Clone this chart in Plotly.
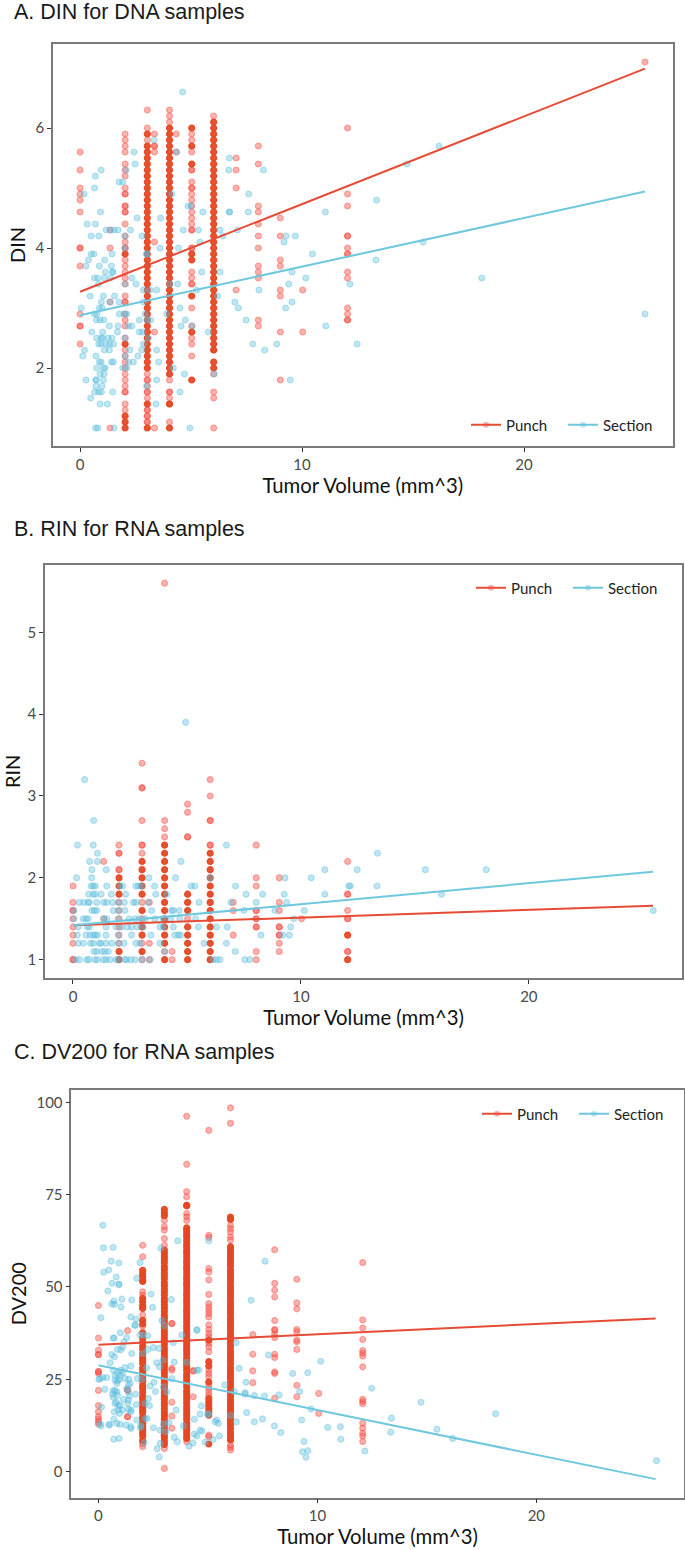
import plotly.graph_objects as go

W, H = 685, 1550

punch_name, section_name = "Punch", "Section"
panel_titles = ["A. DIN for DNA samples", "B. RIN for RNA samples", "C. DV200 for RNA samples"]
x_title = "Tumor Volume (mm^3)"
y_titles = ["DIN", "RIN", "DV200"]
x_ticks = [0, 10, 20]
din_ticks = [2, 4, 6]
rin_ticks = [1, 2, 3, 4, 5]
dv_ticks = [0, 25, 50, 75, 100]

# ---------- A. DIN ----------
din_line_x = [0, 25.45]
din_punch_fit = [3.27, 6.99]
din_section_fit = [2.88, 4.94]

din_p0 = [5.6, 5.3, 5.0, 4.9, 4.8, 4.6, 4.0, 4.0, 3.7, 2.9, 2.7, 2.7, 2.4]
din_p1 = [4.3, 4.0, 3.1, 1.0]
din_p2 = [5.9, 5.8, 5.7, 5.6, 5.4, 5.3, 5.2, 5.0, 4.9, 4.9, 4.7, 4.7, 4.6, 4.6, 4.4, 4.2, 4.1, 4.0, 4.0, 3.8, 3.7, 3.6, 3.5, 3.4,
          3.2, 3.1, 3.1, 2.9, 2.8, 2.7, 2.5, 2.3, 2.2, 2.1, 2.0, 1.9, 1.8, 1.7, 1.6, 1.6, 1.4, 1.3]
din_p2_dense = [3.9, 2.4, 1.2, 1.1, 1.0]
din_p3 = [6.3, 6.0, 5.8, 1.9, 1.8, 1.8, 1.7, 1.6, 1.6, 1.5, 1.3, 1.3, 1.2, 1.2, 1.1, 1.1]
din_p3_dense = [5.9, 5.7, 5.6, 5.5, 5.4, 5.3, 5.2, 5.1, 5.0, 4.9, 4.8, 4.7, 4.6, 4.5, 4.4, 4.3, 4.2, 4.1, 4.0, 3.9, 3.8, 3.7, 3.6, 3.5, 3.4, 3.3, 3.2, 3.1,
                3.0, 2.9, 2.8, 2.7, 2.6, 2.5, 2.4, 2.3, 2.2, 2.1, 2.0, 1.4, 1.0]
din_p4 = [6.3, 6.2, 6.1, 1.8, 1.6, 1.6, 1.5, 1.4, 1.1]
din_p4_dense = [6.0, 5.9, 5.8, 5.7, 5.6, 5.5, 5.4, 5.3, 5.2, 5.1, 5.0, 4.9, 4.8, 4.7, 4.6, 4.5, 4.4, 4.3, 4.2, 4.1, 4.0, 3.9, 3.8, 3.7, 3.6, 3.5, 3.4, 3.3, 3.2,
                3.1, 3.0, 2.9, 2.8, 2.7, 2.6, 2.5, 2.4, 2.3, 2.2, 2.1, 2.0, 1.9, 1.4, 1.0]
din_p5 = [5.9, 5.8, 5.6, 5.3, 5.3, 5.1, 5.0, 5.0, 4.9, 4.8, 4.7, 4.6, 4.5, 4.4, 4.3, 4.3, 4.0, 4.0, 3.6, 3.5, 3.4, 3.4, 3.0, 2.7, 2.5, 2.4, 2.2]
din_p5_dense = [6.0, 5.7, 5.4, 3.9, 3.8, 3.2, 2.6, 1.8]
din_p6 = [6.2, 2.3, 1.9, 1.6, 1.5, 1.0]
din_p6_dense = [6.1, 6.0, 5.9, 5.8, 5.7, 5.6, 5.5, 5.4, 5.3, 5.2, 5.1, 5.0, 4.9, 4.8, 4.7, 4.6, 4.5, 4.4, 4.3, 4.2, 4.1, 4.0, 3.9, 3.8, 3.7, 3.6, 3.5, 3.4, 3.3,
                3.2, 3.1, 3.0, 2.9, 2.8, 2.7, 2.6, 2.5, 2.4, 2.3, 2.1, 2.0]
din_p7 = [5.5, 5.3, 5.0, 3.3]
din_p8 = [5.7, 5.4, 4.7, 4.6, 4.4, 4.2, 4.0, 3.7, 3.6, 3.5, 2.8, 2.7]
din_p9 = [4.5, 4.2, 3.8, 3.7, 3.3, 3.2, 2.6, 1.8]
din_p10 = [3.3, 2.6]
din_p12 = [6.0, 4.9, 4.7, 4.2, 4.2, 4.0, 3.9, 3.9, 3.6, 3.5, 3.0, 2.9, 2.8, 2.8]
din_p1335 = [5.9, 5.7, 5.7, 5.6, 4.1, 2.6, 1.0]
din_p433 = [5.9, 5.6]
din_p25 = [7.1]

din_section_x = [4.62, 3.33, 4.35, 2.43, 2.48, 2.07, .95, .69, 1.76, 1.92, .65, .18, 4.13, .92, 4.86, 5.0, 5.53, 6.73, 6.7, 8.26, 7.6, 6.73, 6.73, 7.58, 11.05,
                 2.57, 3.63, .32, .69, 1.17, 1.37, 1.53, 1.71, 2.27, 4.65, 5.33, 6.3, 7.09, .5, .84, 2.03, 2.79, 5.4, 6.43, 9.19, 9.28, 9.7, 3.6, 4.43, 2.03,
                 .5, .62, 1.44, 3.0, 3.0, .38, 1.11, .26, .87, 1.41, 1.14, 1.47, 1.47, 5.48, 6.3, 9.55, .65, .8, 1.1, 1.37, 2.33, 10.17, .83, 2.52, 4.05, 4.4, 9.4, 2.03,
                 2.85, 3.15, 3.45, 5.25, 8.06, 10.47, .45, 1.05, 1.55, 6.2, .96, 1.35, 1.76, 2.85, 9.55, 6.97, .87, .99, .05, 4.5, 7.13, 9.26,
                 .65, .75, 1.77, 1.98, 2.1, 2.93, 3.9, .74, .9, 1.07, 2.67, 3.03, 3.18, 4.74, 7.48, 1.32, 1.71, 2.18, 2.33, 4.55, 5.05, 11.07,
                 .53, 1.02, 1.68, 2.67, 2.81, 5.78, .75, .95, 1.02, 1.26, 1.44, 2.03, 3.08, .84, .95, 1.17, 1.32, 1.5, 2.85, 7.78, 8.86,
                 .2, 1.1, 1.32, 2.24, 2.78, 3.45, 8.32, .12, .72, 2.03, 2.61, .87, .95, 1.41, 1.5, 2.18, 2.4, 3.54, .75, 1.05, 1.13, 1.92, 2.1, 4.2,
                 .9, 1.08, 4.7, 6.04, .27, .72, .72, 1.05, 3.45, 9.47, .72, .99, 3.0, .66, .84, .96, 1.47, 4.5, .48, .9, 1.23, 3.42, .7, .8, 1.53, 4.95,
                 16.17, 14.73, 13.36, 15.45, 13.33, 18.1, 12.16, 25.45, 12.48]
din_section_y = [6.6, 5.8, 5.6, 5.6, 5.4, 5.3, 5.3, 5.2, 5.1, 5.1, 5.0, 4.9, 4.9, 4.6, 4.7, 4.7, 4.6, 5.5, 5.3, 5.3, 4.9, 4.6, 4.6, 4.6, 4.6,
                 4.5, 4.5, 4.4, 4.4, 4.3, 4.3, 4.3, 4.3, 4.3, 4.3, 4.3, 4.3, 4.3, 4.2, 4.2, 4.2, 4.2, 4.1, 4.2, 4.1, 4.2, 4.2, 4.0, 4.0, 4.0,
                 3.9, 3.9, 3.9, 3.9, 3.9, 3.8, 3.8, 3.7, 3.7, 3.7, 3.6, 3.6, 3.6, 3.6, 3.6, 3.6, 3.5, 3.5, 3.5, 3.5, 3.5, 3.5, 3.4, 3.4, 3.4, 3.4, 3.4, 3.4,
                 3.3, 3.3, 3.3, 3.3, 3.3, 3.9, 3.2, 3.2, 3.2, 3.2, 3.1, 3.1, 3.1, 3.1, 3.1, 3.1, 3.0, 3.0, 3.0, 3.0, 3.0, 3.0,
                 2.9, 2.9, 2.9, 2.9, 2.9, 2.9, 2.9, 2.8, 2.8, 2.8, 2.8, 2.8, 2.8, 2.8, 2.8, 2.7, 2.7, 2.7, 2.7, 2.7, 2.7, 2.7,
                 2.6, 2.6, 2.6, 2.6, 2.6, 2.6, 2.5, 2.5, 2.5, 2.5, 2.5, 2.5, 2.5, 2.4, 2.4, 2.4, 2.4, 2.4, 2.4, 2.4, 2.4,
                 2.3, 2.3, 2.3, 2.3, 2.3, 2.3, 2.3, 2.2, 2.2, 2.2, 2.2, 2.1, 2.1, 2.1, 2.1, 2.1, 2.1, 2.1, 2.0, 2.0, 2.0, 2.0, 2.0, 2.0,
                 1.9, 1.9, 1.9, 1.9, 1.8, 1.8, 1.8, 1.8, 1.8, 1.8, 1.7, 1.7, 1.7, 1.6, 1.6, 1.6, 1.6, 1.6, 1.5, 1.4, 1.4, 1.4, 1.0, 1.0, 1.0, 1.0,
                 5.7, 5.4, 4.8, 4.1, 3.8, 3.5, 3.4, 2.9, 2.4]

# ---------- B. RIN ----------
rin_line_x = [0, 25.45]
rin_punch_fit = [1.42, 1.66]
rin_section_fit = [1.42, 2.075]

rin_p0 = [1.9, 1.7, 1.6, 1.6, 1.5, 1.4, 1.3, 1.2, 1.0, 1.0]
rin_p1 = [2.2, 1.5]
rin_p2 = [2.4, 2.3, 2.3, 2.1, 2.1, 1.7, 1.6, 1.5, 1.4, 1.3, 1.2]
rin_p2_dense = [2.0, 1.9, 1.8, 1.1, 1.0]
rin_p3 = [3.4, 3.1, 3.1, 2.7, 2.4, 2.4, 2.3, 1.7, 1.5, 1.2, 1.0]
rin_p3_dense = [2.2, 2.1, 2.0, 1.9, 1.8, 1.6, 1.4, 1.3, 1.1]
rin_p4 = [5.6, 2.7, 2.6, 2.5, 1.1]
rin_p4_dense = [2.4, 2.3, 2.2, 2.1, 2.0, 1.9, 1.8, 1.7, 1.6, 1.5, 1.4, 1.3, 1.2, 1.0]
rin_p5 = [2.9, 2.8, 2.5, 2.5, 1.5]
rin_p5_dense = [1.8, 1.7, 1.6, 1.4, 1.3, 1.2, 1.1, 1.0]
rin_p6 = [3.2, 3.0, 2.7, 2.7, 2.4, 2.4]
rin_p6_dense = [2.3, 2.2, 2.1, 1.9, 1.8, 1.7, 1.6, 1.5, 1.4, 1.3, 1.2, 1.1, 1.0, 2.0]
rin_p7 = [1.7, 1.6, 1.3]
rin_p8 = [2.4, 2.0, 1.9, 1.6, 1.6, 1.5, 1.5, 1.4, 1.4, 1.1, 1.0]
rin_p9 = [2.0, 1.7, 1.6, 1.4, 1.4, 1.3, 1.3, 1.2, 1.1]
rin_p10 = [1.5]
rin_p12 = [2.2, 1.8, 1.8, 1.6, 1.5, 1.5, 1.1, 1.1]
rin_p12_dense = [1.3, 1.0]
rin_p335 = [1.7, 1.2, 1.0]
rin_p433 = [1.1, 1.0]

rin_section_x = [4.94, .51, .91, .2, .89, 6.73, 1.07, .73, 1.07, 4.74, .83, 1.46, 11.05, .16, .82, 3.33, 4.5, 6.02, 9.3, 10.45,
                 .79, .89, .98, 1.48, 2.06, 2.18, 2.76, 2.87, 3.0, 3.58, 5.19, 5.34, 7.13, 12.1,
                 .69, .89, .98, 1.23, 1.68, 2.31, 3.63, 4.11, 7.59, 8.32, 9.27, 11.05,
                 .28, .48, .67, .72, 1.04, 1.35, 1.48, 1.74, 1.99, 2.25, 2.65, 2.76, 3.3, 5.53, 6.93, 8.04, 9.37,
                 .04, .83, .94, 1.04, 1.77, 1.99, 2.28, 3.45, 4.33, 4.4, 4.66, 7.5, 8.86, 10.15,
                 .04, .45, .57, .67, 1.36, 1.48, 1.99, 2.46, 2.72, 2.91, 3.16, 3.6, 3.96, 4.28, 4.69, 5.38, 9.69,
                 .23, .63, .72, 1.45, 1.89, 2.13, 2.38, 2.57, 2.82, 3.08, 3.82, 3.96, 4.4, 5.5, 6.3, 6.77, 9.55,
                 .19, .57, .75, .89, .98, 1.08, 1.45, 1.99, 2.57, 3.42, 4.47, 4.62, 4.72, 8.25, 9.2, 9.49,
                 .23, .45, .77, .89, 1.15, 1.23, 1.45, 1.7, 1.99, 2.24, 2.76, 2.94, 3.82, 5.75, 6.73,
                 .92, 1.04, 1.26, 1.4, 1.55, 4.02, 7.12,
                 .12, .28, .6, .69, .96, 1.07, 1.33, 1.45, 1.62, 1.89, 2.0, 2.28, 2.35, 2.53, 2.72, 3.03, 3.38, 6.15, 6.3, 6.45, 7.54, 7.76,
                 13.36, 12.47, 15.46, 18.13, 12.17, 13.34, 16.17, 25.46]
rin_section_y = [3.9, 3.2, 2.7, 2.4, 2.4, 2.4, 2.3, 2.2, 2.2, 2.2, 2.1, 2.1, 2.1, 2.0, 2.0, 2.0, 2.0, 2.0, 2.0, 2.0,
                 1.9, 1.9, 1.9, 1.9, 1.9, 1.9, 1.9, 1.9, 1.9, 1.9, 1.9, 1.9, 1.9, 1.9,
                 1.8, 1.8, 1.8, 1.8, 1.8, 1.8, 1.8, 1.8, 1.8, 1.8, 1.8, 1.8,
                 1.7, 1.7, 1.7, 1.7, 1.7, 1.7, 1.7, 1.7, 1.7, 1.7, 1.7, 1.7, 1.7, 1.7, 1.7, 1.7, 1.7,
                 1.6, 1.6, 1.6, 1.6, 1.6, 1.6, 1.6, 1.6, 1.6, 1.6, 1.6, 1.6, 1.6, 1.6,
                 1.5, 1.5, 1.5, 1.5, 1.5, 1.5, 1.5, 1.5, 1.5, 1.5, 1.5, 1.5, 1.5, 1.5, 1.5, 1.5, 1.5,
                 1.4, 1.4, 1.4, 1.4, 1.4, 1.4, 1.4, 1.4, 1.4, 1.4, 1.4, 1.4, 1.4, 1.4, 1.4, 1.4, 1.4,
                 1.3, 1.3, 1.3, 1.3, 1.3, 1.3, 1.3, 1.3, 1.3, 1.3, 1.3, 1.3, 1.3, 1.3, 1.3, 1.3,
                 1.2, 1.2, 1.2, 1.2, 1.2, 1.2, 1.2, 1.2, 1.2, 1.2, 1.2, 1.2, 1.2, 1.2, 1.2,
                 1.1, 1.1, 1.1, 1.1, 1.1, 1.1, 1.1,
                 1.0, 1.0, 1.0, 1.0, 1.0, 1.0, 1.0, 1.0, 1.0, 1.0, 1.0, 1.0, 1.0, 1.0, 1.0, 1.0, 1.0, 1.0, 1.0, 1.0, 1.0, 1.0,
                 2.3, 2.1, 2.1, 2.1, 1.9, 1.9, 1.8, 1.6]

# ---------- C. DV200 ----------
dv_line_x = [0, 25.45]
dv_punch_fit = [34.4, 41.5]
dv_section_fit = [28.8, -2.0]

dv_p0 = [45.0, 36.2, 32.9, 31.7, 31.7, 27.1, 27.1, 26.6, 22.0, 17.9, 16.2, 14.9, 14.2, 13.5, 12.9]
dv_p1 = [38.2, 22.1, 22.1, 14.9, 14.9]
dv_p2 = [61.3, 58.2, 48.7, 47.8, 42.4, 39.4, 8.9, 7.6, 6.8]
dv_p2_dense = [54.5, 53.5, 52.8, 52.0, 51.5, 46.9, 46.0, 45.0, 44.2, 41.0, 40.0, 37.6, 36.2, 35.1, 34.0, 33.1, 31.9, 31.0, 30.2, 29.3, 28.1, 27.2, 26.4, 25.3, 24.5,
               23.4, 22.6, 21.5, 20.4, 19.6, 18.7, 17.6, 16.8, 15.9, 14.8, 14.1, 13.2, 12.3, 11.5, 10.6, 9.8, 8.4]
dv_p3 = [68.0, 66.3, 65.4, 63.1, 61.3, 6.3, 0.9]
dv_p3_dense = [71.0, 70.1, 69.3, 60.0, 59.2, 58.3, 57.5, 56.6, 55.6, 54.8, 53.9, 53.1, 52.2, 51.2, 50.4, 49.5, 48.7, 47.8, 46.8, 46.0, 45.1, 44.3, 43.4,
               42.4, 41.6, 40.7, 39.9, 39.0, 38.0, 37.2, 36.3, 35.5, 34.6, 33.6, 32.8, 31.9, 31.1, 30.2, 29.2, 28.4, 27.5, 26.7, 25.8, 24.8,
               24.0, 23.1, 22.3, 21.4, 20.4, 19.6, 18.7, 17.9, 17.0, 16.0, 15.2, 14.3, 13.5, 12.6, 11.6, 10.8, 9.9, 9.1, 8.2, 7.4]
dv_p4 = [96.2, 83.2, 75.8, 74.4, 69.9, 69.0, 68.0, 8.1]
dv_p4_dense = [72.1, 72.0, 66.0, 65.2, 64.3, 63.5, 62.6, 61.6, 60.8, 59.9, 59.1, 58.2, 57.2, 56.4, 55.5, 54.7, 53.8, 52.8, 52.0, 51.1, 50.3, 49.4, 48.4,
               47.6, 46.7, 45.9, 45.0, 44.0, 43.2, 42.3, 41.5, 40.6, 39.6, 38.8, 37.9, 37.1, 36.2, 35.2, 34.4, 33.5, 32.7, 31.8, 30.8, 30.0,
               29.1, 28.3, 27.4, 26.4, 25.6, 24.7, 23.9, 23.0, 22.0, 21.2, 20.3, 19.5, 18.6, 17.6, 16.8, 15.9, 15.1, 14.2, 13.2, 12.4, 11.5, 10.7, 9.8, 9.0]
dv_p5 = [92.4, 64.0, 63.4, 55.0, 54.1, 51.9, 48.0, 45.5, 44.6, 43.7, 42.8, 41.9, 39.7, 38.5, 37.4, 36.5, 34.7, 33.8, 32.5, 27.5, 26.6, 25.7, 23.4,
         22.5, 21.6, 20.7, 9.9, 9.5]
dv_p5_dense = [35.6, 29.8, 28.6, 24.3, 19.8, 18.9, 18.0, 17.1, 16.2, 15.3, 7.5]
dv_p6 = [98.5, 94.3, 66.7, 65.8, 64.9, 63.6, 62.7, 7.2, 6.6, 5.9]
dv_p6_dense = [68.9, 68.3, 60.9, 60.0, 59.2, 58.3, 57.4, 56.6, 55.7, 54.6, 53.8, 52.9, 52.1, 51.2, 50.2, 49.4, 48.5, 47.7, 46.8, 45.8, 45.0, 44.1, 43.3,
               42.4, 41.4, 40.6, 39.7, 38.9, 38.0, 37.0, 36.2, 35.3, 34.5, 33.6, 32.6, 31.8, 30.9, 30.1, 29.2, 28.2, 27.4, 26.5, 25.7, 24.8,
               23.8, 23.0, 22.1, 21.3, 20.4, 19.4, 18.6, 17.7, 16.9, 16.0, 15.0, 14.2, 13.3, 12.5, 11.6, 10.6, 9.8, 8.9, 8.6]
dv_p7 = [37.1, 31.8, 27.3, 24.1]
dv_p8 = [60.1, 51.0, 49.2, 47.3, 40.9, 38.5, 38.3, 37.2, 36.3, 31.8, 30.9, 27.0, 26.6, 19.9]
dv_p9 = [52.1, 45.7, 44.1, 38.5, 37.9, 35.6, 35.2, 33.1, 23.4, 20.3]
dv_p10 = [21.2, 15.8]
dv_p12 = [56.6, 41.1, 38.9, 35.8, 32.8, 32.1, 31.3, 28.4, 19.6, 19.0, 18.4, 13.1, 11.8, 10.4, 9.7, 8.2]
dv_p335 = [40.1, 40.1, 28.0, 27.5, 18.8, 15.1, 11.8]
dv_p433 = [27.3, 27.3, 20.3]

dv_section_x = [.2, .23, .67, .58, .93, .47, .24, .81, .62, .93, .94, .43, 1.07, .7, .61, .73, 1.03, 1.52, 2.4, 2.47, 1.9, 1.75, 2.85, 3.62, 3.33, 6.97, 7.61, 5.04,
                .11, 1.48, 1.72, 1.67, 2.9, 3.03, 4.49, 1.67, 1.0, .68, .71, 1.29, 1.17, 2.25, 1.9, 2.05, 3.81, 4.5, 3.42, 6.29,
                .87, 1.02, 1.11, .61, .73, .53, 1.52, 2.05, 2.25, 2.51, 2.77, 7.76, 2.66, 2.79, 2.94, 3.46, 4.03, 1.48, 1.22, 1.02, 2.2,
                .68, .76, .87, .99, 1.11, .08, .02, .2, .38, .76, .87, .96, .84, 1.78, 1.98, 1.39, 1.22, 3.36, 4.49, 4.58, 6.42, 8.87, 9.56, 10.15,
                2.54, 2.36, 2.97, 3.12, 2.6, 5.77, 6.74, 6.2, 6.7, 6.7, 7.12, 7.58, 8.25, 9.19, .29, .68, .76, .84, .65, .87, .68,
                1.37, 1.45, 1.29, 1.37, 1.41, 1.14, 1.37, 1.69, 2.28, 2.13, 2.33, .81, .76, .91, .99, .14, 1.72, 1.34,
                .72, .91, .96, 1.1, 1.37, 1.48, 1.48, 3.55, 4.7, 4.64, 4.98, 4.38, 6.77, 7.49, 7.12, 6.3, 9.71, 9.28, 10.47, 11.05, 11.07,
                8.04, 8.33, 9.39, 9.32, 9.56, 9.48, .7, .08, .11, .47, .52, .84, .99, 1.26, 1.48, 1.48, 1.75, 1.94, 1.92, 2.13, 2.22,
                2.51, 2.82, 3.07, 3.21, 2.97, 3.88, .7, .94, 2.09, 2.82, 2.68, 2.77, 3.46, 3.6, 4.14, 4.31, 4.38, 4.49, 4.64, 4.73,
                4.87, 5.24, 5.53, 5.33, 5.4, 5.48, 6.04, 5.04, 12.48, 13.38, 13.35, 14.73, 15.46, 16.18, 18.14, 25.49, 12.17]
dv_section_y = [66.7, 60.6, 60.7, 57.0, 56.5, 54.6, 54.0, 52.7, 51.0, 50.8, 50.6, 48.9, 46.7, 46.2, 45.4, 45.3, 44.6, 46.5, 48.1, 44.5, 56.6, 52.4, 60.5, 62.5, 46.6, 46.4, 57.0, 62.5,
                41.7, 41.9, 41.3, 39.6, 40.9, 39.5, 38.4, 39.7, 37.6, 36.2, 36.2, 36.3, 35.2, 36.8, 37.0, 37.0, 37.0, 38.3, 34.9, 34.9,
                33.1, 33.0, 33.8, 31.7, 31.1, 29.5, 32.0, 32.0, 33.1, 33.6, 33.4, 31.6, 29.5, 28.4, 30.2, 29.7, 29.6, 28.6, 28.2, 27.5, 28.1,
                27.5, 26.1, 26.6, 26.1, 26.8, 25.2, 25.0, 25.5, 25.5, 24.8, 24.6, 25.0, 23.9, 25.2, 25.0, 25.0, 25.2, 25.2, 27.5, 27.5, 28.0, 26.6, 26.8, 29.9,
                24.2, 23.2, 23.0, 21.6, 21.7, 23.5, 24.2, 21.7, 21.4, 21.0, 20.6, 20.5, 20.8, 21.7, 22.3, 22.0, 21.9, 21.6, 21.0, 20.7, 20.1,
                23.4, 23.9, 22.5, 21.6, 20.5, 19.6, 19.4, 21.0, 19.8, 18.5, 17.9, 18.9, 18.5, 17.8, 18.0, 17.5, 18.2, 18.5,
                16.2, 16.7, 15.8, 16.7, 16.9, 16.7, 16.2, 16.7, 17.8, 15.6, 15.6, 14.2, 16.0, 14.3, 13.5, 13.5, 17.0, 14.0, 12.0, 12.2, 8.8,
                12.4, 10.6, 8.2, 5.4, 5.7, 3.9, 14.2, 12.9, 12.4, 12.7, 12.7, 13.1, 12.8, 12.6, 12.2, 11.7, 14.0, 12.5, 12.0, 14.4, 14.4,
                11.9, 11.3, 10.8, 13.3, 12.9, 12.4, 8.8, 9.0, 7.9, 7.7, 6.2, 4.0, 9.3, 8.1, 6.9, 7.8, 10.2, 9.7, 11.3, 11.0,
                8.0, 8.7, 9.7, 13.5, 14.0, 13.1, 15.2, 15.6, 22.6, 14.5, 10.7, 18.8, 11.5, 9.0, 15.7, 3.0, 5.6]

# ---------- flatten the hand-read columns ----------
din_light = [(0, din_p0), (1.35, din_p1), (2.03, din_p2), (3.03, din_p3), (4.03, din_p4), (5.03, din_p5), (6.02, din_p6), (7.03, din_p7),
             (8.03, din_p8), (9.02, din_p9), (10.03, din_p10), (12.05, din_p12), (3.35, din_p1335), (4.33, din_p433), (25.45, din_p25)]
din_dense = [(2.03, din_p2_dense), (3.03, din_p3_dense), (4.03, din_p4_dense), (5.03, din_p5_dense), (6.02, din_p6_dense)]
rin_light = [(0, rin_p0), (1.35, rin_p1), (2.02, rin_p2), (3.03, rin_p3), (4.02, rin_p4), (5.03, rin_p5), (6.02, rin_p6), (7.03, rin_p7),
             (8.04, rin_p8), (9.05, rin_p9), (10.03, rin_p10), (12.05, rin_p12), (3.35, rin_p335), (4.35, rin_p433)]
rin_dense = [(2.02, rin_p2_dense), (3.03, rin_p3_dense), (4.02, rin_p4_dense), (5.03, rin_p5_dense), (6.02, rin_p6_dense), (12.05, rin_p12_dense)]
dv_light = [(0, dv_p0), (1.33, dv_p1), (2.02, dv_p2), (3.01, dv_p3), (4.03, dv_p4), (5.04, dv_p5), (6.03, dv_p6), (7.05, dv_p7),
            (8.05, dv_p8), (9.06, dv_p9), (10.06, dv_p10), (12.07, dv_p12), (3.35, dv_p335), (4.33, dv_p433)]
dv_dense = [(2.02, dv_p2_dense), (3.01, dv_p3_dense), (4.03, dv_p4_dense), (5.04, dv_p5_dense), (6.03, dv_p6_dense)]


def flat(cols):
    xs, ys = [], []
    for vol, vals in cols:
        for v in vals:
            xs.append(vol)
            ys.append(v)
    return xs, ys


RED, BLUE = "#E64B35", "#6FC8DE"
RED_PT = "rgba(248,75,65,0.42)"
RED_DENSE = "rgba(230,70,35,0.94)"
BLUE_PT = "rgba(90,190,220,0.38)"
FONT = "Lato"

panels = [
    dict(box=(53, 672.5, 44, 446), xr=(-1.22, 26.69), yr=(0.7, 7.4), yt=din_ticks, light=din_light, dense=din_dense, ystand=5,
         sx=din_section_x, sy=din_section_y, lx=din_line_x, pf=din_punch_fit, sf=din_section_fit, leg=(466, 425), title_y=12.5),
    dict(box=(45, 682, 564.7, 978), xr=(-1.228, 26.72), yr=(0.776, 5.826), yt=rin_ticks, light=rin_light, dense=rin_dense, ystand=12,
         sx=rin_section_x, sy=rin_section_y, lx=rin_line_x, pf=rin_punch_fit, sf=rin_section_fit, leg=(471, 588), title_y=529),
    dict(box=(71.3, 683.7, 1089.7, 1497.7), xr=(-1.24, 26.73), yr=(-7.03, 103.4), yt=dv_ticks, light=dv_light, dense=dv_dense, ystand=4,
         sx=dv_section_x, sy=dv_section_y, lx=dv_line_x, pf=dv_punch_fit, sf=dv_section_fit, leg=(477, 1114), title_y=1052),
]

fig = go.Figure()
layout = dict(width=W, height=H, margin=dict(l=0, r=0, t=0, b=0), paper_bgcolor="white", plot_bgcolor="white",
              font=dict(family=FONT, color="#222222"), annotations=[])

for i, p in enumerate(panels):
    n = "" if i == 0 else str(i + 1)
    xa, ya = f"x{n}", f"y{n}"
    legend_id = "legend" if i == 0 else f"legend{i + 1}"
    l, r, t, b = p["box"]
    common = dict(showgrid=False, zeroline=False, showline=True, linecolor="#7a7a7a", linewidth=1.5, mirror=True,
                  ticks="outside", ticklen=4, tickwidth=1.2, tickcolor="#333333",
                  tickfont=dict(family=FONT, size=15, color="#4a4a4a"))
    layout[f"xaxis{n}"] = dict(domain=[l / W, r / W], anchor=ya, range=list(p["xr"]), tickvals=x_ticks,
                               title=dict(text=x_title, font=dict(family=FONT, size=20.3, color="#111111"), standoff=6), **common)
    layout[f"yaxis{n}"] = dict(domain=[1 - b / H, 1 - t / H], anchor=xa, range=list(p["yr"]), tickvals=p["yt"],
                               title=dict(text=y_titles[i], font=dict(family=FONT, size=20, color="#111111"), standoff=p["ystand"]), **common)

    px, py = flat(p["light"])
    dx, dy = flat(p["dense"])
    fig.add_trace(go.Scatter(x=px, y=py, mode="markers", xaxis=xa, yaxis=ya, showlegend=False, hoverinfo="skip",
                             marker=dict(size=6, color=RED_PT, line=dict(width=1.2, color=RED_PT))))
    fig.add_trace(go.Scatter(x=dx, y=dy, mode="markers", xaxis=xa, yaxis=ya, showlegend=False, hoverinfo="skip",
                             marker=dict(size=6, color=RED_DENSE, line=dict(width=1.2, color=RED_DENSE))))
    fig.add_trace(go.Scatter(x=p["sx"], y=p["sy"], mode="markers", xaxis=xa, yaxis=ya, showlegend=False, hoverinfo="skip",
                             marker=dict(size=6, color=BLUE_PT, line=dict(width=1.2, color=BLUE_PT))))
    fig.add_trace(go.Scatter(x=p["lx"], y=p["pf"], mode="lines", xaxis=xa, yaxis=ya, showlegend=False, hoverinfo="skip",
                             line=dict(color=RED, width=2)))
    fig.add_trace(go.Scatter(x=p["lx"], y=p["sf"], mode="lines", xaxis=xa, yaxis=ya, showlegend=False, hoverinfo="skip",
                             line=dict(color=BLUE, width=2)))
    for name, col, pt in ((punch_name, RED, RED_PT), (section_name, BLUE, BLUE_PT)):
        fig.add_trace(go.Scatter(x=[None], y=[None], mode="lines+markers", name=name, xaxis=xa, yaxis=ya, legend=legend_id,
                                 line=dict(color=col, width=2), marker=dict(size=6, color=pt), hoverinfo="skip"))
    layout[legend_id] = dict(x=p["leg"][0] / W, y=1 - p["leg"][1] / H, xanchor="left", yanchor="middle", orientation="h",
                             bgcolor="rgba(0,0,0,0)", font=dict(family=FONT, size=15, color="#222222"), itemwidth=30,
                             entrywidth=52, entrywidthmode="pixels",
                             traceorder="normal", itemclick=False, itemdoubleclick=False)
    layout["annotations"].append(dict(text=panel_titles[i], xref="paper", yref="paper", x=12 / W, y=1 - p["title_y"] / H,
                                      xanchor="left", yanchor="middle", showarrow=False,
                                      font=dict(family="Liberation Sans", size=21.5, color="#1a1a1a")))

fig.update_layout(**layout)
fig.write_html("out.html", config=dict(displayModeBar=False),
               post_script="document.body.style.margin='0';")
